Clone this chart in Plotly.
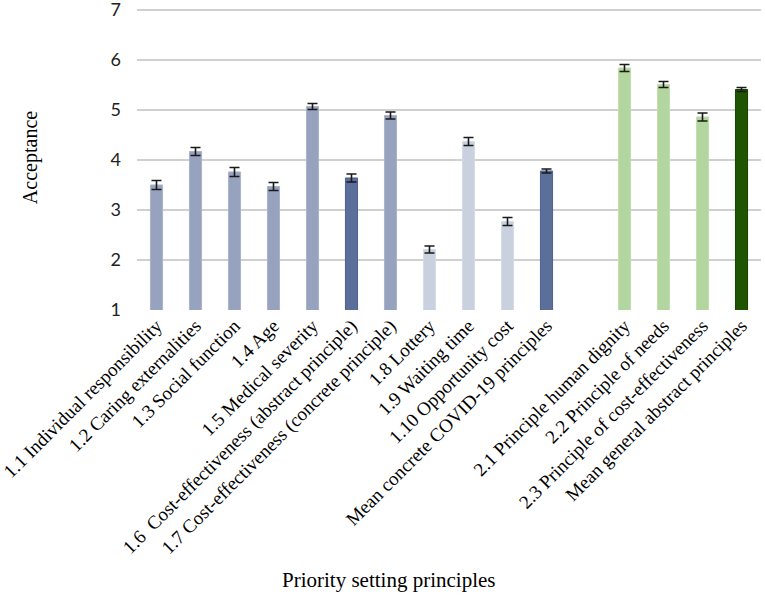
import plotly.graph_objects as go

categories = [
    "1.1 Individual responsibility",
    "1.2 Caring externalities",
    "1.3 Social function",
    "1.4 Age",
    "1.5 Medical severity",
    "1.6  Cost-effectiveness (abstract principle)",
    "1.7 Cost-effectiveness (concrete principle)",
    "1.8 Lottery",
    "1.9 Waiting time",
    "1.10 Opportunity cost",
    "Mean concrete COVID-19 principles",
    " ",
    "2.1 Principle human dignity",
    "2.2 Principle of needs",
    "2.3 Principle of cost-effectiveness",
    "Mean general abstract principles",
]
values = [3.50, 4.17, 3.76, 3.47, 5.07, 3.64, 4.89, 2.21, 4.37, 2.77, 3.78,
          None, 5.84, 5.51, 4.86, 5.41]
errors = [0.09, 0.08, 0.09, 0.08, 0.06, 0.08, 0.07, 0.07, 0.08, 0.08, 0.04,
          None, 0.07, 0.06, 0.08, 0.04]
y_ticks = [1, 2, 3, 4, 5, 6, 7]
bar_colors = ["#97A3BE"] * 5 + ["#5C6F9B", "#97A3BE"] + ["#C9D0DE"] * 3 + ["#5C6F9B", "#FFFFFF"] \
    + ["#B3D5A0"] * 3 + ["#1F5500"]
line_colors = ["#A9B3CA"] * 5 + ["#4E6190", "#A9B3CA"] + ["#D5DBE6"] * 3 + ["#4E6190", "#FFFFFF"] \
    + ["#C2DEB0"] * 3 + ["#164000"]

fig = go.Figure(go.Bar(
    x=categories, y=values,
    marker=dict(color=bar_colors, line=dict(color=line_colors, width=1)),
    error_y=dict(type="data", array=errors, color="#1a1a1a", thickness=1.6, width=5),
))

fig.update_layout(
    width=765, height=597,
    margin=dict(l=137, r=4, t=5, b=287),
    paper_bgcolor="white", plot_bgcolor="white",
    bargap=0.69,
    showlegend=False,
    xaxis=dict(
        automargin=False,
        tickangle=-45, tickfont=dict(family="Liberation Serif", size=19, color="black"),
        showgrid=False, showline=False, ticks="",
    ),
    yaxis=dict(
        automargin=False,
        range=[0.999, 7.1], tickvals=y_ticks, showgrid=True, gridcolor="#D0D0D0", gridwidth=1.5,
        zeroline=False, showline=False, ticklabeloverflow="allow",
        tickfont=dict(family="Lato", size=18, color="#222"),
        ticklabelstandoff=15,
        title=dict(text="Acceptance", standoff=67,
                   font=dict(family="Liberation Serif", size=20, color="black")),
    ),
    annotations=[dict(
        text="Priority setting principles", xref="paper", yref="paper",
        x=0.403, y=-0.885, xanchor="center", yanchor="middle", showarrow=False,
        font=dict(family="Liberation Serif", size=21, color="black"),
    )],
)
fig.write_html("out.html", config={"displayModeBar": False},
               post_script="document.body.style.margin='0';")
